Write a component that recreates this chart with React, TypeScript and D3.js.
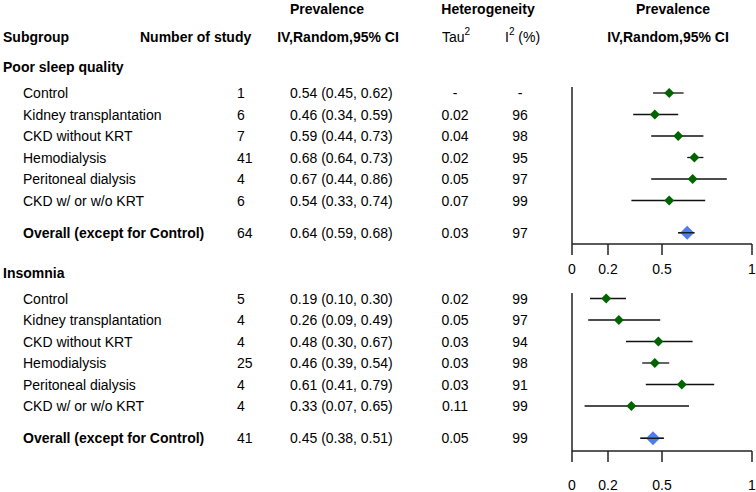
import React from "react";
import * as d3 from "d3";

const subgroups = [
  "Control",
  "Kidney transplantation",
  "CKD without KRT",
  "Hemodialysis",
  "Peritoneal dialysis",
  "CKD w/ or w/o KRT",
  "Overall (except for Control)",
];

const sectionTitles = ["Poor sleep quality", "Insomnia"];

const psqN = [1, 6, 7, 41, 4, 6, 64];
const psqEst = [0.54, 0.46, 0.59, 0.68, 0.67, 0.54, 0.64];
const psqLo = [0.45, 0.34, 0.44, 0.64, 0.44, 0.33, 0.59];
const psqHi = [0.62, 0.59, 0.73, 0.73, 0.86, 0.74, 0.68];
const psqTau = ["-", "0.02", "0.04", "0.02", "0.05", "0.07", "0.03"];
const psqI2 = ["-", "96", "98", "95", "97", "99", "97"];

const insN = [5, 4, 4, 25, 4, 4, 41];
const insEst = [0.19, 0.26, 0.48, 0.46, 0.61, 0.33, 0.45];
const insLo = [0.1, 0.09, 0.3, 0.39, 0.41, 0.07, 0.38];
const insHi = [0.3, 0.49, 0.67, 0.54, 0.79, 0.65, 0.51];
const insTau = ["0.02", "0.05", "0.03", "0.03", "0.03", "0.11", "0.05"];
const insI2 = ["99", "97", "94", "98", "91", "99", "99"];

const tickValues = [0, 0.2, 0.5, 1];

const sections = [
  { title: sectionTitles[0], n: psqN, est: psqEst, lo: psqLo, hi: psqHi, tau: psqTau, i2: psqI2 },
  { title: sectionTitles[1], n: insN, est: insEst, lo: insLo, hi: insHi, tau: insTau, i2: insI2 },
];

const FONT = "'Liberation Sans', Arial, Helvetica, sans-serif";
const fmt = d3.format(".2f");

export default function App() {
  const W = 756;
  const H = 492;
  const x = d3.scaleLinear().domain([0, 1]).range([572, 752]);
  const sectionOffset = 205.5;
  const rowY = (i: number) => 93 + (i === 6 ? 6.5 : i) * 21.5;
  const fs = 14;

  return (
    <svg
      width={W}
      height={H}
      style={{ position: "absolute", left: 0, top: 0, fontFamily: FONT }}
      fontFamily={FONT}
    >
      <rect width={W} height={H} fill="#fff" />
      {/* headers */}
      <g fontSize={fs} fontWeight="bold" fill="#000" dominantBaseline="central">
        <text x={327} y={8.5} textAnchor="middle">Prevalence</text>
        <text x={488} y={8.5} textAnchor="middle">Heterogeneity</text>
        <text x={673} y={8.5} textAnchor="middle">Prevalence</text>
        <text x={3} y={37}>Subgroup</text>
        <text x={140} y={37}>Number of study</text>
        <text x={338} y={37} textAnchor="middle">IV,Random,95% CI</text>
        <text x={668} y={37} textAnchor="middle">IV,Random,95% CI</text>
      </g>
      <g fontSize={fs} fill="#000" dominantBaseline="central">
        <text x={442} y={37}>
          Tau<tspan fontSize={10} dy={-6}>2</tspan>
        </text>
        <text x={505} y={37}>
          I<tspan fontSize={10} dy={-6}>2</tspan>
          <tspan dy={6}> (%)</tspan>
        </text>
      </g>

      {sections.map((s, si) => {
        const off = si * sectionOffset;
        const axisY = 244 + si * 207;
        const tickLabelY = si === 0 ? 269 : 485;
        return (
          <g key={si}>
            <text
              x={3}
              y={67 + off}
              fontSize={fs}
              fontWeight="bold"
              dominantBaseline="central"
            >
              {s.title}
            </text>
            {subgroups.map((g, i) => {
              const y = rowY(i) + off;
              const overall = i === 6;
              return (
                <g key={i} fontSize={fs} dominantBaseline="central">
                  <text x={23} y={y} fontWeight={overall ? "bold" : "normal"}>
                    {g}
                  </text>
                  <text x={237} y={y}>{s.n[i]}</text>
                  <text x={290} y={y}>
                    {`${fmt(s.est[i])} (${fmt(s.lo[i])}, ${fmt(s.hi[i])})`}
                  </text>
                  <text x={455} y={y} textAnchor="middle">{s.tau[i]}</text>
                  <text x={520} y={y} textAnchor="middle">{s.i2[i]}</text>
                </g>
              );
            })}
            {/* axes */}
            <line
              x1={x(0)}
              x2={x(0)}
              y1={87 + si * 206}
              y2={axisY}
              stroke="#222"
              strokeWidth={1.5}
            />
            <line x1={x(0)} x2={x(1)} y1={axisY} y2={axisY} stroke="#222" strokeWidth={1.5} />
            {tickValues.map((t) => (
              <g key={t}>
                <line
                  x1={x(t)}
                  x2={x(t)}
                  y1={axisY}
                  y2={axisY + 11}
                  stroke="#222"
                  strokeWidth={1.5}
                />
                <text
                  x={x(t)}
                  y={tickLabelY}
                  fontSize={fs}
                  textAnchor="middle"
                  dominantBaseline="central"
                >
                  {String(t)}
                </text>
              </g>
            ))}
            {/* CI lines & diamonds */}
            {s.est.map((e, i) => {
              const y = rowY(i) + off;
              const overall = i === 6;
              const r = overall ? 7 : 5;
              const cx = x(e);
              const d = `M${cx - r},${y} L${cx},${y - r} L${cx + r},${y} L${cx},${y + r} Z`;
              return (
                <g key={i}>
                  <line
                    x1={x(s.lo[i])}
                    x2={x(s.hi[i])}
                    y1={y}
                    y2={y}
                    stroke="#111"
                    strokeWidth={1.3}
                  />
                  <path d={d} fill={overall ? "#4f7ee8" : "#006400"} />
                  {overall && (
                    <line
                      x1={x(s.lo[i])}
                      x2={x(s.hi[i])}
                      y1={y}
                      y2={y}
                      stroke="#111"
                      strokeWidth={1.3}
                    />
                  )}
                </g>
              );
            })}
          </g>
        );
      })}
    </svg>
  );
}
